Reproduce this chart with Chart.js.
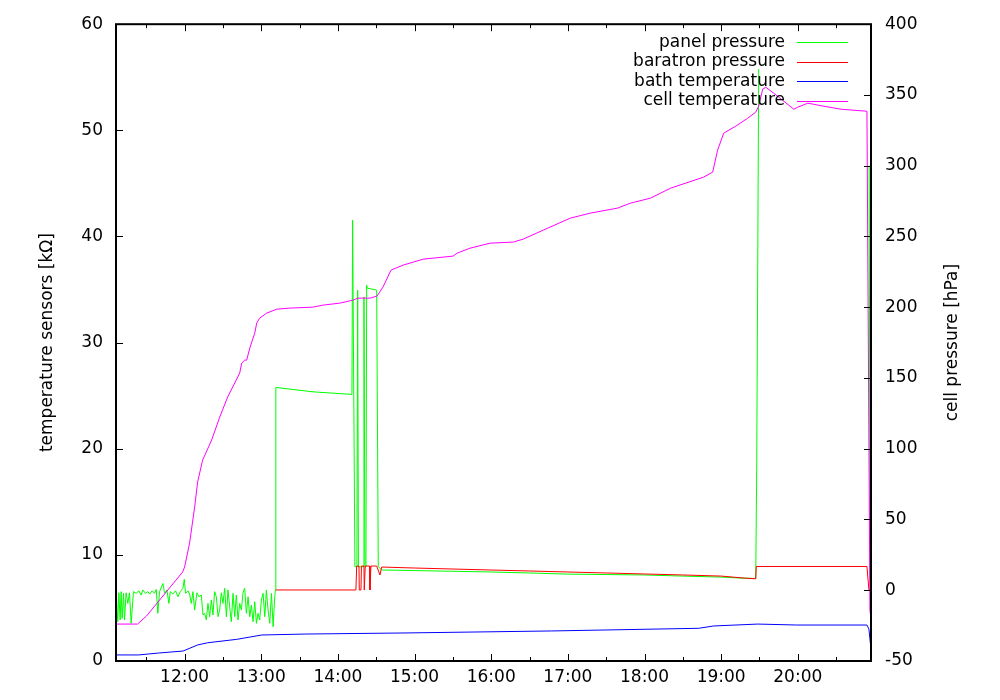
<!DOCTYPE html>
<html lang="en">
<head>
<meta charset="UTF-8">
<title>Temperature sensors and cell pressure</title>
<script src="https://cdn.jsdelivr.net/npm/chart.js"></script>
<style>
  body { margin: 0; background: #fff; }
  #chart { display: block; }
</style>
</head>
<body>
<canvas id="chart" width="1000" height="700"></canvas>
<script>
// time is in decimal hours of the day
const hourTicks = [12, 13, 14, 15, 16, 17, 18, 19, 20];
const timeMin = 11.105;
const timeMax = 20.955;

const leftTitle = 'temperature sensors [k\u03A9]';
const rightTitle = 'cell pressure [hPa]';

// panel pressure [hPa] (right axis)
const panelTime = [11.108, 11.128, 11.142, 11.159, 11.172, 11.185, 11.203, 11.216, 11.237, 11.259,
  11.281, 11.303, 11.333, 11.368, 11.403, 11.434, 11.455, 11.490, 11.521, 11.542,
  11.577, 11.608, 11.630, 11.651, 11.673, 11.717, 11.739, 11.769, 11.795, 11.813,
  11.847, 11.882, 11.913, 11.943, 11.978, 11.996, 12.013, 12.044, 12.065, 12.087,
  12.109, 12.131, 12.161, 12.187, 12.218, 12.240, 12.261, 12.283, 12.305, 12.327,
  12.349, 12.370, 12.392, 12.414, 12.436, 12.457, 12.479, 12.501, 12.523, 12.545,
  12.566, 12.588, 12.610, 12.632, 12.654, 12.675, 12.697, 12.719, 12.741, 12.762,
  12.784, 12.806, 12.828, 12.850, 12.871, 12.893, 12.915, 12.937, 12.958, 12.980,
  13.002, 13.024, 13.046, 13.067, 13.089, 13.111, 13.133, 13.155, 13.176, 13.185,
  13.190, 13.677, 14.183, 14.192, 14.222, 14.248, 14.258, 14.268, 14.333, 14.340,
  14.353, 14.366, 14.375, 14.383, 14.506, 14.527, 14.571, 15.0, 15.5, 16.0,
  16.5, 17.0, 17.5, 18.0, 18.5, 19.0, 19.3, 19.451, 19.464, 19.490,
  19.500, 20.930, 20.945];
const panelValue = [-2.2, -22.2, -1.8, -21.0, -1.0, -19.9, -2.2, -21.0, -1.8, -9.3,
  -1.8, -23.4, -1.0, -2.2, -0.4, -3.4, 0.2, -2.2, -1.0, -2.7,
  -0.4, -2.2, 0.6, -16.3, -1.0, 4.8, -2.2, 0.2, -9.3, -1.0,
  -2.7, -0.4, -4.6, -1.0, 1.4, 7.7, -2.2, -0.4, -2.7, -9.3,
  -1.0, -14.0, -1.8, -4.6, -3.4, -17.5, -16.3, -21.0, -9.3, -18.7,
  -6.9, -17.5, -1.0, -4.6, -18.7, -14.0, -1.8, -9.3, 1.4, -18.7,
  0.2, -11.6, -22.2, -2.2, -18.7, -3.4, -21.0, -9.3, -14.0, -1.8,
  1.4, -16.3, -4.6, -18.7, -10.5, -22.2, -8.1, -23.4, -16.3, -21.0,
  -6.9, -2.2, -18.7, 0.2, -14.0, -23.4, -2.2, -25.8, -4.6, 0.2,
  143.3, 140.2, 138.4, 261.5, 16.6, 16.6, 212.1, 16.6, 16.6, 207.3,
  16.6, 16.6, 215.6, 213.5, 212.1, 16.6, 14.3, 13.9, 13.4, 12.9,
  12.2, 11.4, 11.1, 10.8, 10.0, 9.3, 8.5, 8.3, 86.3, 368.2,
  null, 300, 5];

// baratron pressure [hPa] (right axis)
const baratronTime = [13.190, 14.235, 14.245, 14.275, 14.279, 14.301, 14.307, 14.340, 14.344, 14.357,
  14.414, 14.418, 14.431, 14.506, 14.549, 14.571, 15.0, 15.5, 16.0, 16.5,
  17.0, 17.5, 18.0, 18.5, 19.0, 19.3, 19.451, 19.458, 20.902, 20.928, 20.945];
const baratronValue = [0.2, 0.2, 17.1, 17.1, 0.2, 0.2, 17.1, 17.1, 0.2, 17.1,
  17.1, 0.2, 17.1, 17.1, 10.8, 16.4, 15.7, 15.0, 14.3, 13.6,
  12.9, 12.2, 11.5, 10.8, 10.0, 8.6, 8.1, 16.8, 16.8, 0.2, 0.2];

// bath temperature [kOhm] (left axis)
const bathTime = [11.105, 11.399, 11.660, 11.980, 12.170, 12.301, 12.680, 13.007, 13.582, 14.863,
  16.784, 18.706, 18.902, 19.477, 19.987, 20.902, 20.928, 20.948, 20.955];
const bathValue = [0.57, 0.57, 0.75, 0.94, 1.51, 1.72, 2.04, 2.45, 2.54, 2.64,
  2.83, 3.08, 3.30, 3.48, 3.39, 3.39, 3.01, 1.60, 1.60];

// cell temperature [kOhm] (left axis)
const cellTime = [11.105, 11.386, 11.503, 11.974, 12.000, 12.065, 12.131, 12.170, 12.235, 12.353,
  12.458, 12.562, 12.719, 12.745, 12.784, 12.810, 12.850, 12.915, 12.941, 12.980,
  13.072, 13.203, 13.373, 13.673, 13.804, 14.026, 14.196, 14.261, 14.418, 14.510,
  14.588, 14.693, 14.850, 15.111, 15.503, 15.556, 15.725, 15.987, 16.288, 16.418,
  16.680, 17.033, 17.294, 17.647, 17.817, 18.078, 18.340, 18.771, 18.889, 18.954,
  19.033, 19.190, 19.346, 19.451, 19.490, 19.542, 19.582, 19.686, 19.948, 20.000,
  20.131, 20.340, 20.562, 20.902, 20.941, 20.955];
const cellValue = [3.48, 3.48, 4.24, 8.38, 8.85, 11.11, 14.50, 16.86, 18.93, 20.82,
  22.98, 24.87, 27.13, 28.07, 28.35, 28.35, 29.48, 30.89, 31.84, 32.31,
  32.78, 33.15, 33.25, 33.34, 33.53, 33.72, 34.00, 34.19, 34.19, 34.38,
  35.23, 36.83, 37.30, 37.86, 38.15, 38.43, 38.90, 39.37, 39.47, 39.75,
  40.60, 41.73, 42.20, 42.67, 43.14, 43.61, 44.55, 45.59, 46.06, 48.13,
  49.73, 50.39, 51.14, 51.71, 52.28, 53.88, 54.06, 53.50, 51.99, 52.18,
  52.56, 52.27, 51.99, 51.80, 4.80, 3.90];

function pairs(times, values) {
    return times.map((t, i) => ({ x: t, y: values[i] }));
}

function series(label, color, axis, order, times, values) {
    return {
        label: label,
        data: pairs(times, values),
        borderColor: color,
        backgroundColor: color,
        borderWidth: 1,
        pointRadius: 0,
        tension: 0,
        spanGaps: false,
        yAxisID: axis,
        order: order
    };
}

const FONT = '17px "DejaVu Sans"';

// frame, inward ticks, axis titles and key drawn the gnuplot way
const gnuplotDecor = {
    id: 'gnuplotDecor',
    afterDraw(chart) {
        const { ctx, chartArea: a, scales } = chart;
        ctx.save();
        ctx.strokeStyle = '#000';
        ctx.lineWidth = 1;
        const seg = (x1, y1, x2, y2) => {
            ctx.beginPath(); ctx.moveTo(x1, y1); ctx.lineTo(x2, y2); ctx.stroke();
        };

        // x ticks every half hour, bottom and top
        for (let t = Math.ceil(timeMin * 2) / 2; t < timeMax; t += 0.5) {
            const px = Math.round(scales.x.getPixelForValue(t)) + 0.5;
            const len = Number.isInteger(t) ? 7 : 4;
            seg(px, a.bottom, px, a.bottom - len);
            seg(px, a.top, px, a.top + len);
        }
        scales.y.ticks.forEach(t => {
            const py = Math.round(scales.y.getPixelForValue(t.value)) + 0.5;
            seg(a.left, py, a.left + 7, py);
        });
        scales.y2.ticks.forEach(t => {
            const py = Math.round(scales.y2.getPixelForValue(t.value)) + 0.5;
            seg(a.right, py, a.right - 7, py);
        });

        ctx.lineWidth = 2;
        ctx.strokeRect(a.left, a.top, a.right - a.left, a.bottom - a.top);

        // axis titles, both reading bottom to top
        ctx.fillStyle = '#000';
        ctx.font = FONT;
        ctx.textAlign = 'center';
        ctx.textBaseline = 'middle';
        const midY = (a.top + a.bottom) / 2;
        [[48, leftTitle], [953, rightTitle]].forEach(([x, text]) => {
            ctx.save();
            ctx.translate(x, midY);
            ctx.rotate(-Math.PI / 2);
            ctx.fillText(text, 0, 0);
            ctx.restore();
        });

        // key in the top right corner
        ctx.textAlign = 'right';
        ctx.lineWidth = 1;
        chart.data.datasets.forEach((ds, i) => {
            const y = a.top + 18 + i * 19.5;
            ctx.fillStyle = '#000';
            ctx.fillText(ds.label, a.right - 86, y);
            ctx.strokeStyle = ds.borderColor;
            seg(a.right - 74, Math.round(y) + 0.5, a.right - 23, Math.round(y) + 0.5);
        });
        ctx.restore();
    }
};

Chart.defaults.font.family = '"DejaVu Sans"';
Chart.defaults.font.size = 17;
Chart.defaults.color = '#000';

new Chart(document.getElementById('chart'), {
    type: 'line',
    data: {
        datasets: [
            series('panel pressure', '#00ff00', 'y2', 4, panelTime, panelValue),
            series('baratron pressure', '#ff0000', 'y2', 3, baratronTime, baratronValue),
            series('bath temperature', '#0000ff', 'y', 2, bathTime, bathValue),
            series('cell temperature', '#ff00ff', 'y', 1, cellTime, cellValue)
        ]
    },
    options: {
        responsive: false,
        animation: false,
        layout: { padding: { top: 24, left: 0, right: 0, bottom: 0 } },
        plugins: {
            legend: { display: false },
            tooltip: { enabled: false }
        },
        scales: {
            x: {
                type: 'linear',
                min: timeMin,
                max: timeMax,
                grid: { display: false, drawTicks: false },
                border: { display: false },
                afterBuildTicks: scale => { scale.ticks = hourTicks.map(v => ({ value: v })); },
                afterFit: scale => { scale.height = 39; },
                ticks: {
                    autoSkip: false,
                    maxRotation: 0,
                    padding: 6,
                    callback: v => String(Math.floor(v)).padStart(2, '0') + ':00'
                }
            },
            y: {
                position: 'left',
                min: 0,
                max: 60,
                grid: { display: false, drawTicks: false },
                border: { display: false },
                afterFit: scale => { scale.width = 116; },
                ticks: { stepSize: 10, padding: 13 }
            },
            y2: {
                position: 'right',
                min: -50,
                max: 400,
                grid: { display: false, drawTicks: false },
                border: { display: false },
                afterFit: scale => { scale.width = 129; },
                ticks: { stepSize: 50, padding: 14 }
            }
        }
    },
    plugins: [gnuplotDecor]
});
</script>
</body>
</html>
